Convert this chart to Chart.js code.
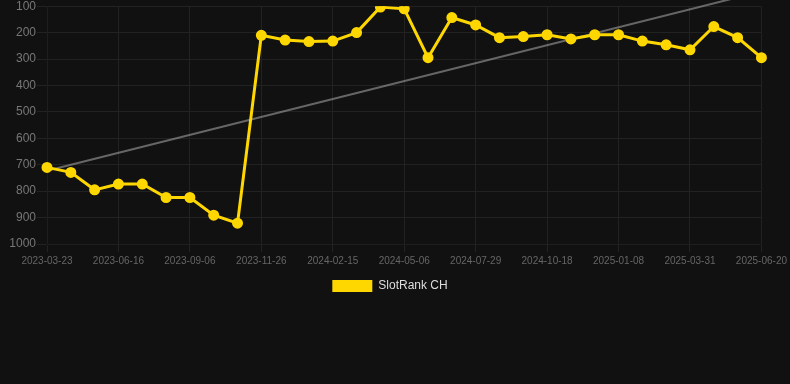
<!DOCTYPE html>
<html>
<head>
<meta charset="utf-8">
<script src="https://cdn.jsdelivr.net/npm/chart.js@4.4.1/dist/chart.umd.min.js"></script>
<style>
  html, body { margin: 0; padding: 0; background: #111111; overflow: hidden; }
  #wrap { width: 790px; height: 304px; margin-top: -2px; }
</style>
</head>
<body>
<div id="wrap"><canvas id="rankChart"></canvas></div>
<script>
// dates of the samples (every ~4 weeks)
const dates = [
  "2023-03-23", "2023-04-19", "2023-05-18", "2023-06-16", "2023-07-13",
  "2023-08-09", "2023-09-06", "2023-10-03", "2023-10-30", "2023-11-26",
  "2023-12-23", "2024-01-19", "2024-02-15", "2024-03-13", "2024-04-09",
  "2024-05-06", "2024-06-03", "2024-07-01", "2024-07-29", "2024-08-25",
  "2024-09-21", "2024-10-18", "2024-11-14", "2024-12-11", "2025-01-08",
  "2025-02-04", "2025-03-03", "2025-03-31", "2025-04-27", "2025-05-24",
  "2025-06-20"
];

// SlotRank CH position
const rankCH = [
  710, 729, 795, 773, 773, 824, 824, 891, 921, 210,
  228, 234, 232, 200, 103, 110, 295, 143, 171, 219,
  215, 208, 224, 208, 208, 232, 246, 265, 177, 219,
  295
];

// trend line, only start and end are given
const trendStart = 723;
const trendEnd = 44;
const trend = dates.map((d, i) => i === 0 ? trendStart : (i === dates.length - 1 ? trendEnd : null));

const yTicks = [100, 200, 300, 400, 500, 600, 700, 800, 900, 1000];

const font = "Liberation Sans, Arial, sans-serif";

const ctx = document.getElementById("rankChart").getContext("2d");
new Chart(ctx, {
  type: "line",
  data: {
    labels: dates,
    datasets: [
      {
        label: "SlotRank CH",
        data: rankCH,
        borderColor: "#FFD700",
        backgroundColor: "#FFD700",
        borderWidth: 3,
        pointRadius: 4,
        pointHoverRadius: 5,
        pointBackgroundColor: "#FFD700",
        pointBorderColor: "#FFD700",
        tension: 0,
        order: 1
      },
      {
        label: "trend",
        data: trend,
        borderColor: "rgba(160,160,160,0.6)",
        borderWidth: 2,
        pointRadius: 0,
        spanGaps: true,
        tension: 0,
        clip: false,
        order: 2
      }
    ]
  },
  options: {
    responsive: true,
    maintainAspectRatio: false,
    animation: false,
    layout: { padding: { left: 0, right: 10 } },
    plugins: {
      legend: {
        position: "bottom",
        labels: {
          color: "#dddddd",
          font: { family: font, size: 12 },
          boxWidth: 40,
          boxHeight: 12,
          generateLabels: (chart) =>
            Chart.defaults.plugins.legend.labels.generateLabels(chart)
              .filter((item) => item.text !== "trend")
              .map((item) => Object.assign(item, { lineWidth: 0 }))
        }
      },
      tooltip: { enabled: false }
    },
    scales: {
      x: {
        grid: { color: "#222222" },
        ticks: {
          color: "#666666",
          font: { family: font, size: 10 },
          autoSkip: true,
          maxTicksLimit: 11,
          maxRotation: 0
        }
      },
      y: {
        reverse: true,
        min: yTicks[0],
        max: yTicks[yTicks.length - 1],
        afterFit: (scale) => { scale.width = 47; },
        grid: { color: "#222222", tickLength: 10 },
        ticks: {
          color: "#777777",
          stepSize: 100,
          padding: 1,
          font: { family: font, size: 12 },
          callback: (v) => String(v)
        }
      }
    }
  }
});
</script>
</body>
</html>
